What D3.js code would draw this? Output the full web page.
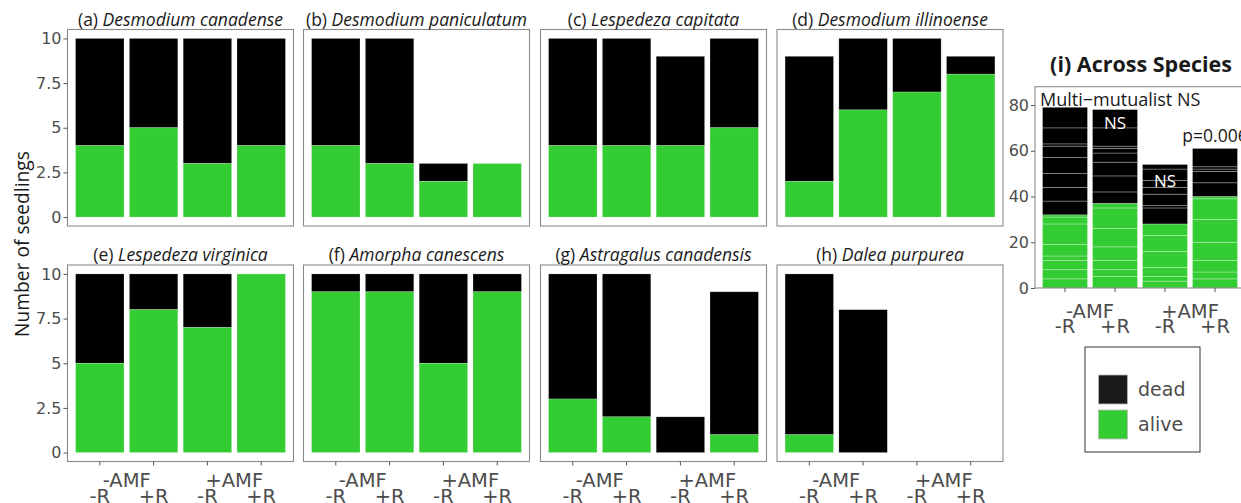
<!DOCTYPE html>
<html>
<head>
<meta charset="utf-8">
<script src="https://cdn.jsdelivr.net/npm/d3@7"></script>
<style>
  html, body { margin: 0; padding: 0; background: #fff; }
  svg { display: block; }
  text { font-family: "Open Sans", "Noto Sans", sans-serif; }
  .axt { font-family: "DejaVu Sans", "Open Sans", sans-serif; }
</style>
</head>
<body>
<svg id="chart" width="1241" height="503"></svg>
<script>
// ---------------- data ----------------
const treatments = ["-AMF -R", "-AMF +R", "+AMF -R", "+AMF +R"];
const rLabels = ["-R", "+R", "-R", "+R"];
const amfLabels = ["-AMF", "+AMF"];
const panelLetters = ["(a)", "(b)", "(c)", "(d)", "(e)", "(f)", "(g)", "(h)"];
const speciesNames = ["Desmodium canadense", "Desmodium paniculatum", "Lespedeza capitata", "Desmodium illinoense",
                      "Lespedeza virginica", "Amorpha canescens", "Astragalus canadensis", "Dalea purpurea"];
// alive / dead seedlings per species, in treatment order
const aliveA = [4, 5, 3, 4],  deadA = [6, 5, 7, 6];
const aliveB = [4, 3, 2, 3],  deadB = [6, 7, 1, 0];
const aliveC = [4, 4, 4, 5],  deadC = [6, 6, 5, 5];
const aliveD = [2, 6, 7, 8],  deadD = [7, 4, 3, 1];
const aliveE = [5, 8, 7, 10], deadE = [5, 2, 3, 0];
const aliveF = [9, 9, 5, 9],  deadF = [1, 1, 5, 1];
const aliveG = [3, 2, 0, 1],  deadG = [7, 8, 2, 8];
const aliveH = [1, 0, 0, 0],  deadH = [9, 8, 0, 0];
const aliveAll = [aliveA, aliveB, aliveC, aliveD, aliveE, aliveF, aliveG, aliveH];
const deadAll  = [deadA, deadB, deadC, deadD, deadE, deadF, deadG, deadH];
const yTicksSmall = [0, 2.5, 5, 7.5, 10];
const yTickLabelsSmall = ["0", "2.5", "5", "7.5", "10"];
const yTicksBig = [0, 20, 40, 60, 80];
const yTickLabelsBig = ["0", "20", "40", "60", "80"];
const statusLabels = ["dead", "alive"];
const annotations = [
  { text: "Multi\u2212mutualist NS", tIndex: 0, value: 82.5, color: "#1a1a1a", anchor: "start", size: 18 },
  { text: "NS", tIndex: 1, value: 72.3, color: "#ffffff", anchor: "middle", size: 17 },
  { text: "NS", tIndex: 2, value: 46.8, color: "#ffffff", anchor: "middle", size: 17 },
  { text: "p=0.006", tIndex: 3, value: 66.5, color: "#1a1a1a", anchor: "middle", size: 17.5 }
];

// ---------------- style ----------------
const GREEN = "#33cc33", BLACK = "#000000";
const GRAY_TXT = "#4d4d4d", BORDER = "#8a8a8a";

const svg = d3.select("#chart");

// small panel geometry
const colX = [67.5, 303.5, 540.5, 777];
const panelW = 226;
const rowY = [29.5, 265];
const panelH = 196.5;

function drawSmall(i) {
  const row = Math.floor(i / 4), col = i % 4;
  const x0 = colX[col], y0 = rowY[row];
  const g = svg.append("g");
  const x = d3.scaleBand().domain(treatments).range([x0, x0 + panelW]).paddingInner(0.1).paddingOuter(0.15);
  const y = d3.scaleLinear().domain([-0.5, 10.5]).range([y0 + panelH, y0]);

  const alive = aliveAll[i], dead = deadAll[i];
  treatments.forEach((t, k) => {
    if (dead[k] > 0) {
      g.append("rect")
        .attr("x", x(t)).attr("width", x.bandwidth())
        .attr("y", y(alive[k] + dead[k])).attr("height", y(alive[k]) - y(alive[k] + dead[k]))
        .attr("fill", BLACK).attr("stroke", "#ffffff").attr("stroke-opacity", 0.35).attr("stroke-width", 0.6);
    }
    if (alive[k] > 0) {
      g.append("rect")
        .attr("x", x(t)).attr("width", x.bandwidth())
        .attr("y", y(alive[k])).attr("height", y(0) - y(alive[k]))
        .attr("fill", GREEN).attr("stroke", "#ffffff").attr("stroke-opacity", 0.35).attr("stroke-width", 0.6);
    }
  });

  g.append("rect").attr("x", x0).attr("y", y0).attr("width", panelW).attr("height", panelH)
    .attr("fill", "none").attr("stroke", BORDER).attr("stroke-width", 1.1);

  // title
  const title = g.append("text").attr("x", x0 + panelW / 2).attr("y", y0 - 4)
    .attr("text-anchor", "middle").attr("font-size", 17.5).attr("fill", "#1a1a1a");
  title.append("tspan").text(panelLetters[i] + " ");
  title.append("tspan").attr("font-style", "italic").text(speciesNames[i]);

  // y axis only on first column
  if (col === 0) {
    const ay = g.append("g").attr("transform", `translate(${x0},0)`)
      .call(d3.axisLeft(y).tickValues(yTicksSmall).tickFormat((d, j) => yTickLabelsSmall[j]).tickSize(4).tickPadding(2));
    ay.select(".domain").remove();
    ay.selectAll(".tick line").attr("stroke", "#555");
    ay.selectAll(".tick text").attr("class", "axt").attr("font-size", 16).attr("fill", GRAY_TXT)
      .attr("font-family", null);
  }
  // x axis only on bottom row
  if (row === 1) {
    xAxisLabels(g, x, y0 + panelH, 25.5, 41);
  }
}

function xAxisLabels(g, x, yb, amfOff, rOff) {
  const ax = g.append("g").attr("transform", `translate(0,${yb})`)
    .call(d3.axisBottom(x).tickSize(4).tickFormat(""));
  ax.select(".domain").remove();
  ax.selectAll(".tick line").attr("stroke", "#555");
  treatments.forEach((t, k) => {
    g.append("text").attr("class", "axt").attr("x", x(t) + x.bandwidth() / 2).attr("y", yb + rOff)
      .attr("text-anchor", "middle").attr("font-size", 19.5).attr("fill", GRAY_TXT).text(rLabels[k]);
  });
  amfLabels.forEach((lab, m) => {
    const c = (x(treatments[2 * m]) + x(treatments[2 * m + 1]) + x.bandwidth()) / 2;
    g.append("text").attr("class", "axt").attr("x", c).attr("y", yb + amfOff)
      .attr("text-anchor", "middle").attr("font-size", 19.5).attr("fill", GRAY_TXT).text(lab);
  });
}

for (let i = 0; i < 8; i++) drawSmall(i);

// y axis title
svg.append("text").attr("transform", "translate(29,244) rotate(-90)")
  .attr("text-anchor", "middle").attr("font-size", 19.2).attr("fill", "#1a1a1a").text("Number of seedlings");

// ---------------- panel (i) ----------------
(function () {
  const x0 = 1035, top = 86.7, bottom = 288;
  const step = 50;
  const w = step * 4.2;
  const g = svg.append("g");
  const x = d3.scaleBand().domain(treatments).range([x0, x0 + w]).paddingInner(0.1).paddingOuter(0.15);
  const y = d3.scaleLinear().domain([0, 88]).range([bottom, top]);

  treatments.forEach((t, k) => {
    // alive segments, species stacked a..h from the bottom, then dead segments
    let cum = 0;
    aliveAll.forEach(arr => {
      const v = arr[k];
      if (v > 0) {
        g.append("rect").attr("x", x(t)).attr("width", x.bandwidth())
          .attr("y", y(cum + v)).attr("height", y(cum) - y(cum + v))
          .attr("fill", GREEN).attr("stroke", "#ffffff").attr("stroke-opacity", 0.35).attr("stroke-width", 0.8);
      }
      cum += v;
    });
    deadAll.forEach(arr => {
      const v = arr[k];
      if (v > 0) {
        g.append("rect").attr("x", x(t)).attr("width", x.bandwidth())
          .attr("y", y(cum + v)).attr("height", y(cum) - y(cum + v))
          .attr("fill", BLACK).attr("stroke", "#ffffff").attr("stroke-opacity", 0.35).attr("stroke-width", 0.8);
      }
      cum += v;
    });
  });

  g.append("rect").attr("x", x0).attr("y", top).attr("width", w).attr("height", bottom - top)
    .attr("fill", "none").attr("stroke", BORDER).attr("stroke-width", 1.1);

  const ay = g.append("g").attr("transform", `translate(${x0},0)`)
    .call(d3.axisLeft(y).tickValues(yTicksBig).tickFormat((d, j) => yTickLabelsBig[j]).tickSize(4).tickPadding(2));
  ay.select(".domain").remove();
  ay.selectAll(".tick line").attr("stroke", "#555");
  ay.selectAll(".tick text").attr("class", "axt").attr("font-size", 16).attr("fill", GRAY_TXT)
    .attr("font-family", null);

  xAxisLabels(g, x, bottom, 30, 45);

  annotations.forEach(a => {
    const cx = a.anchor === "start" ? x0 + 5 : x(treatments[a.tIndex]) + x.bandwidth() / 2;
    g.append("text").attr("x", cx).attr("y", y(a.value)).attr("dy", "0.35em")
      .attr("text-anchor", a.anchor).attr("font-size", a.size).attr("fill", a.color).text(a.text);
  });

  svg.append("text").attr("x", 1141).attr("y", 72).attr("text-anchor", "middle")
    .attr("font-size", 21.5).attr("font-weight", "bold").attr("fill", "#1a1a1a").text("(i) Across Species");
})();

// ---------------- legend ----------------
(function () {
  const lx = 1085, ly = 347, lw = 115, lh = 105;
  svg.append("rect").attr("x", lx).attr("y", ly).attr("width", lw).attr("height", lh)
    .attr("fill", "#fff").attr("stroke", "#333").attr("stroke-width", 1);
  const colors = ["#1a1a1a", GREEN];
  statusLabels.forEach((lab, k) => {
    const ky = ly + 28 + k * 35;
    svg.append("rect").attr("x", lx + 13.5).attr("y", ky).attr("width", 29).attr("height", 29)
      .attr("fill", colors[k]).attr("stroke", "#bbb").attr("stroke-width", 0.8);
    svg.append("text").attr("class", "axt").attr("x", lx + 53).attr("y", ky + 14.5).attr("dy", "0.35em")
      .attr("font-size", 19).attr("fill", GRAY_TXT).text(lab);
  });
})();
</script>
</body>
</html>
